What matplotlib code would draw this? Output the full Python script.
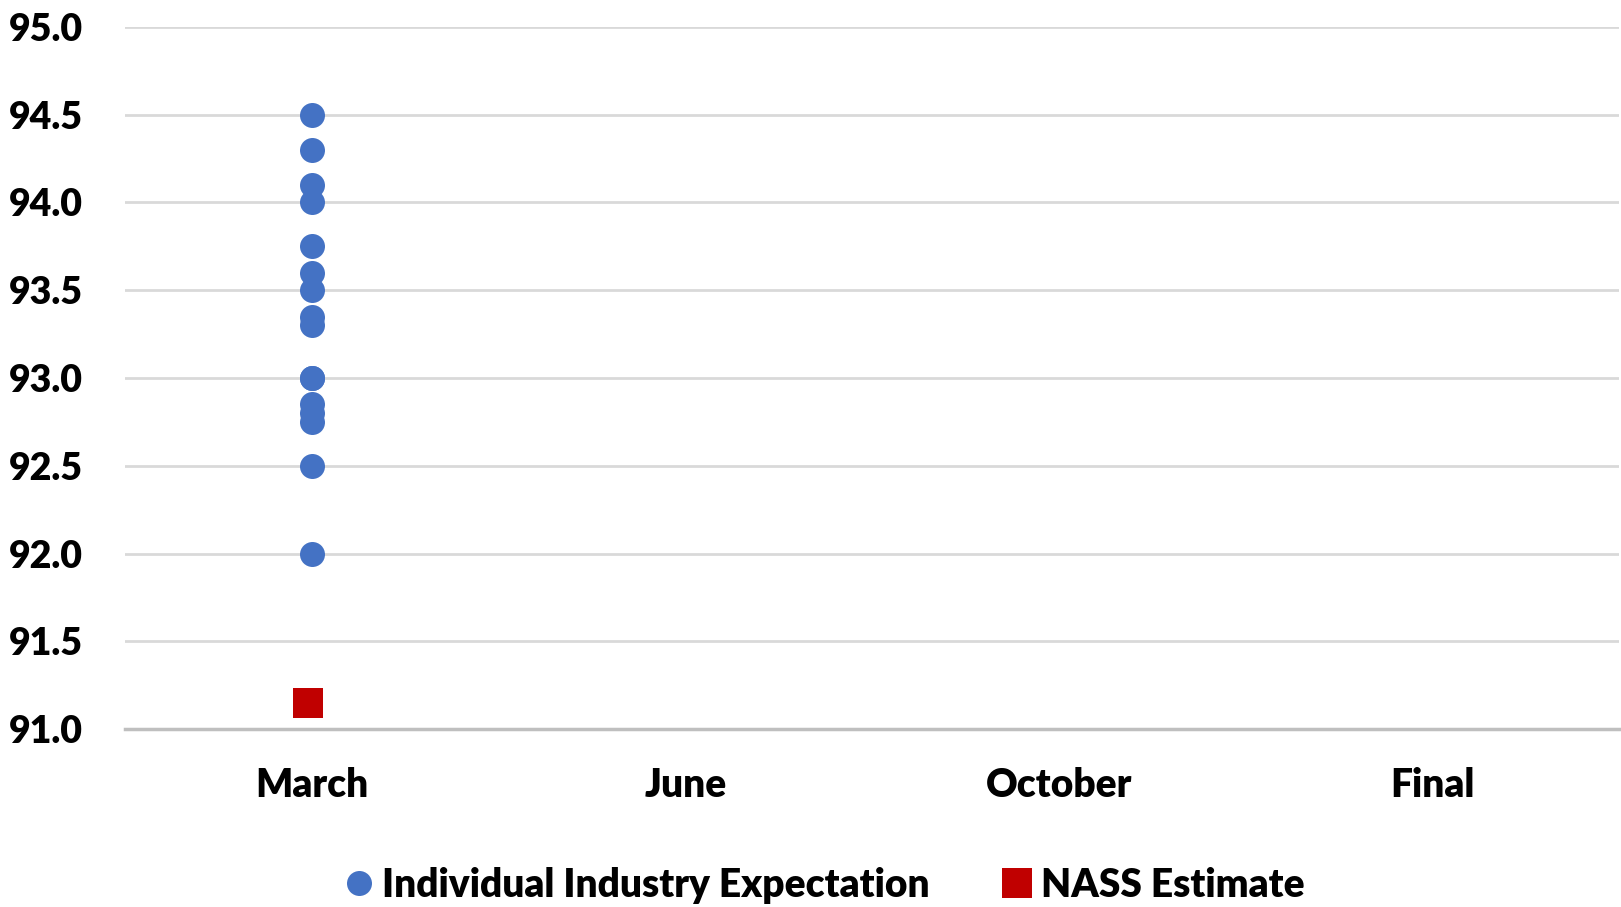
import numpy as np
import matplotlib.pyplot as plt

# categories on the x axis
months = ['March', 'June', 'October', 'Final']

# individual industry expectations (all reported for March)
industry_month = 'March'
industry_values = [94.5, 94.3, 94.1, 94.0, 93.75, 93.6, 93.5, 93.35, 93.3,
                   93.0, 93.0, 92.85, 92.8, 92.75, 92.5, 92.0]

# NASS estimate
nass_month = 'March'
nass_value = 91.15

y_ticks = np.arange(91.0, 95.01, 0.5)

plt.rcParams['font.family'] = ['Lato', 'DejaVu Sans']
plt.rcParams['font.weight'] = 'heavy'

fig = plt.figure(figsize=(16.21, 9.07), dpi=100)
ax = fig.add_axes([0.077, 0.1962, 0.922, 0.7741])

xi = months.index(industry_month)
ax.plot([xi] * len(industry_values), industry_values, 'o', color='#4472C4',
        markersize=18, markeredgewidth=0, label='Individual Industry Expectation',
        zorder=3, clip_on=False)
xn = months.index(nass_month)
ax.plot([xn - 0.01], [nass_value], 's', color='#C00000', markersize=22,
        markeredgewidth=0, label='NASS Estimate', zorder=3, clip_on=False)

ax.set_xlim(-0.5, len(months) - 0.5)
ax.set_ylim(91.0, 95.0)
ax.set_xticks(range(len(months)))
ax.set_xticklabels(months, fontsize=28, fontweight='heavy')
ax.set_yticks(y_ticks)
ax.set_yticklabels([f'{v:.1f}' for v in y_ticks], fontsize=27, fontweight='heavy')
ax.tick_params(axis='both', length=0)
ax.tick_params(axis='y', pad=30)
ax.tick_params(axis='x', pad=27)

ax.grid(axis='y', color='#d9d9d9', linewidth=2)
ax.set_axisbelow(True)
for s in ['left', 'right', 'top']:
    ax.spines[s].set_visible(False)
ax.spines['bottom'].set_color('#bfbfbf')
ax.spines['bottom'].set_linewidth(2.5)
ax.spines['bottom'].set_zorder(2)

fig.legend(loc='center', bbox_to_anchor=(0.507, 0.024), ncol=2, frameon=False,
           handlelength=1.0, handletextpad=0.1, columnspacing=1.75,
           prop={'weight': 'heavy', 'size': 28})

fig.savefig('out.png', dpi=100)
